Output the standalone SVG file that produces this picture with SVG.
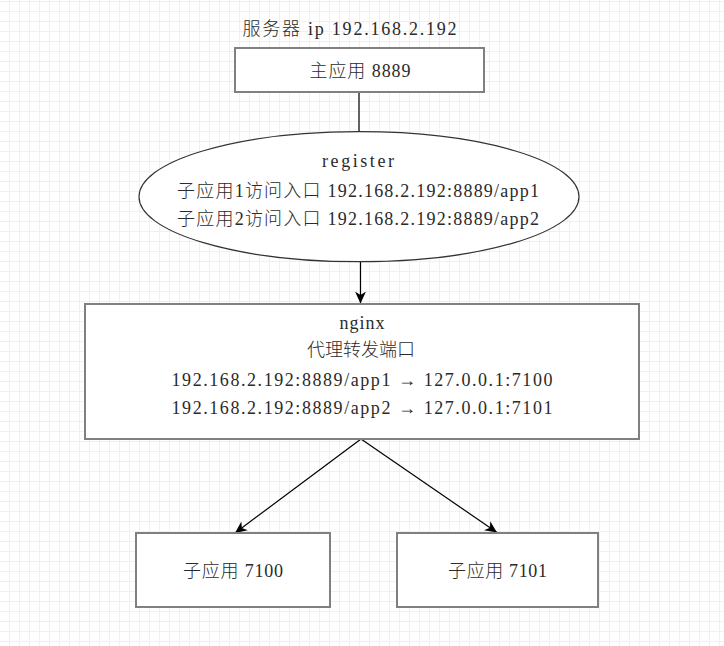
<svg xmlns="http://www.w3.org/2000/svg" width="724" height="646" viewBox="0 0 724 646">
<style>
.box{fill:#fff;stroke:#808080;stroke-width:2}
.ell{fill:#fff;stroke:#333;stroke-width:1.2}
.edge{fill:none;stroke:#000;stroke-width:1.2}
.t{font-family:"Liberation Serif","Noto Sans CJK SC",serif;font-size:18px;font-weight:300;fill:#2a2a2a;text-anchor:middle}
</style>
<defs>
<pattern id="grid" width="10" height="10" patternUnits="userSpaceOnUse">
<path d="M9.5 0V10M0 1.5H10" stroke="#f0f0f0" stroke-width="1" fill="none"/>
</pattern>
<marker id="arr" viewBox="0 0 12 12" refX="12" refY="6" markerWidth="12" markerHeight="12" markerUnits="userSpaceOnUse" orient="auto">
<path d="M0,0.5 L12,6 L0,11.5 L3.5,6 Z" fill="#000"/>
</marker>
</defs>
<rect width="724" height="646" fill="#fff"/>
<rect width="724" height="646" fill="url(#grid)"/>

<g id="edges">
<line class="edge" x1="359" y1="92" x2="359" y2="132"/>
<line class="edge" x1="360.5" y1="262" x2="360.5" y2="303.5" marker-end="url(#arr)"/>
<line class="edge" x1="361" y1="439" x2="235" y2="533" marker-end="url(#arr)"/>
<line class="edge" x1="361" y1="439" x2="497" y2="532.5" marker-end="url(#arr)"/>
</g>

<g id="title">
<text class="t" x="349.5" y="35" textLength="214" lengthAdjust="spacing">服务器 ip 192.168.2.192</text>
</g>

<g id="main">
<rect class="box" x="235" y="48" width="249" height="44"/>
<text class="t" x="360" y="77" textLength="101" lengthAdjust="spacing">主应用 8889</text>
</g>

<g id="register">
<ellipse class="ell" cx="359" cy="196.7" rx="220" ry="65"/>
<text class="t" x="358" y="167" textLength="72" lengthAdjust="spacing">register</text>
<text class="t" x="358" y="197" textLength="362" lengthAdjust="spacing">子应用1访问入口 192.168.2.192:8889/app1</text>
<text class="t" x="358" y="225" textLength="362" lengthAdjust="spacing">子应用2访问入口 192.168.2.192:8889/app2</text>
</g>

<g id="nginx">
<rect class="box" x="85" y="304" width="554" height="135"/>
<text class="t" x="362" y="329" textLength="45" lengthAdjust="spacing">nginx</text>
<text class="t" x="361" y="356" textLength="108" lengthAdjust="spacing">代理转发端口</text>
<text class="t" x="362" y="386" textLength="381" lengthAdjust="spacing">192.168.2.192:8889/app1 → 127.0.0.1:7100</text>
<text class="t" x="362" y="414" textLength="381" lengthAdjust="spacing">192.168.2.192:8889/app2 → 127.0.0.1:7101</text>
</g>

<g id="app7100">
<rect class="box" x="136" y="533" width="194" height="74"/>
<text class="t" x="233" y="577" textLength="100" lengthAdjust="spacing">子应用 7100</text>
</g>

<g id="app7101">
<rect class="box" x="397" y="533" width="201" height="74"/>
<text class="t" x="497.5" y="577" textLength="99" lengthAdjust="spacing">子应用 7101</text>
</g>
</svg>
